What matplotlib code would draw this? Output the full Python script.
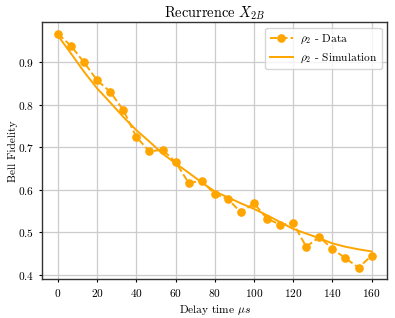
import numpy as np
import matplotlib
matplotlib.use("Agg")
import matplotlib.pyplot as plt

plt.rcParams['font.family'] = 'serif'
plt.rcParams['font.serif'] = ['cmr10']
plt.rcParams['mathtext.fontset'] = 'cm'
plt.rcParams['axes.formatter.use_mathtext'] = True
plt.rcParams['font.size'] = 8.2

# delay times (us), 25 points evenly spaced 0..160
delay = np.linspace(0, 160, 25)

data = [0.966, 0.938, 0.899, 0.857, 0.830, 0.787, 0.724, 0.690, 0.694, 0.665,
        0.616, 0.621, 0.590, 0.578, 0.547, 0.568, 0.532, 0.518, 0.521, 0.466,
        0.489, 0.461, 0.439, 0.417, 0.445]

# simulated fidelity
sim = [0.962, 0.920, 0.877, 0.838, 0.805, 0.771, 0.740, 0.713, 0.685, 0.662,
       0.640, 0.617, 0.596, 0.582, 0.568, 0.555, 0.540, 0.524, 0.508, 0.497,
       0.486, 0.474, 0.466, 0.460, 0.455]

fig, ax = plt.subplots(figsize=(3.95, 3.18), dpi=100)
fig.subplots_adjust(left=0.107, right=0.9805, top=0.930, bottom=0.1217)

ax.plot(delay, data, 'o--', color='orange', markersize=5.2, lw=1.4,
        label=r'$\rho_2$ - Data')
ax.plot(delay, sim, '-', color='orange', lw=1.4,
        label=r'$\rho_2$ - Simulation')

ax.grid(True, color='#cccccc', lw=0.9)
ax.set_axisbelow(True)
ax.set_xticks([0, 20, 40, 60, 80, 100, 120, 140, 160])
ax.set_yticks([0.4, 0.5, 0.6, 0.7, 0.8, 0.9])
ax.tick_params(labelsize=8.2, length=2.2, width=0.8, pad=3.5)
for s in ax.spines.values():
    s.set_linewidth(1.0)
    s.set_color('#333333')

ax.set_title(r'Recurrence $X_{2B}$', fontsize=10.4, pad=2.5)
ax.set_xlabel(r'Delay time $\mu s$', fontsize=8.2, labelpad=3)
ax.set_ylabel('Bell Fidelity', fontsize=8.2, labelpad=0)
ax.legend(loc='upper right', fontsize=8.2, handlelength=2.0,
          handletextpad=0.6, borderpad=0.4)

fig.savefig('out.png', dpi=100)
